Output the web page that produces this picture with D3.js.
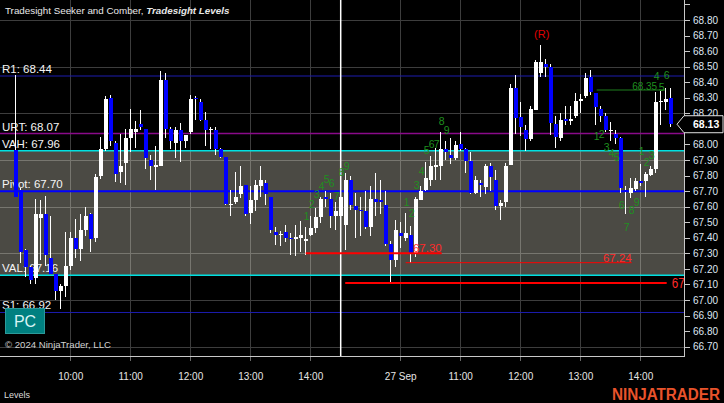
<!DOCTYPE html>
<html><head><meta charset="utf-8">
<script src="https://cdn.jsdelivr.net/npm/d3@7"></script>
<style>
body{margin:0;background:#000;}
svg{display:block;font-family:"Liberation Sans",Arial,sans-serif;}
</style>
</head><body>
<svg id="chart" width="724" height="403"></svg>
<script>
// ---------------- DATA ----------------
const firstBar = 3;           // index of the first 5-minute bar shown
const lastBarIndex = 134;
const opens = [67.965,67.71,67.32,67.21,67.14,67.53,67.55,67.27,67.17,67.06,67.09,67.22,67.40,67.33,67.45,67.55,67.40,
67.80,67.97,68.30,68.01,67.82,67.88,68.04,68.08,68.13,68.10,67.90,67.855,67.86,68.415,68.10,68.01,
68.09,68.02,68.08,68.30,68.27,68.16,68.09,68.09,67.97,67.92,67.61,67.63,67.68,67.74,67.56,67.64,67.73,67.755,67.665,
67.435,67.42,67.435,67.40,67.40,67.40,67.38,67.415,67.465,67.535,67.665,67.65,67.54,67.54,67.48,67.77,67.605,67.58,67.57,
67.47,67.65,67.645,67.61,67.36,67.26,67.43,67.40,67.42,67.30,67.645,67.71,67.77,67.86,67.86,67.97,67.935,67.915,68.00,
67.97,67.895,67.69,67.755,67.725,67.86,67.77,67.605,67.63,67.865,68.36,68.175,68.09,68.035,68.22,68.46,68.52,68.50,68.13,
68.04,68.165,68.15,68.18,68.28,68.31,68.435,68.33,68.23,68.185,68.09,68.07,68.04,67.71,67.69,67.715,67.765,67.765,67.805,
67.845,68.27,68.27,68.30];
const highs = [68.447,67.72,67.33,67.22,67.65,67.64,67.67,67.54,67.17,67.10,67.44,67.44,67.52,67.55,67.60,67.56,67.81,
68.05,68.31,68.32,68.02,68.07,68.10,68.23,68.15,68.22,68.10,67.93,67.99,68.47,68.46,68.11,68.11,
68.14,68.06,68.32,68.31,68.29,68.21,68.11,68.11,67.98,67.92,67.71,67.82,67.86,67.74,67.73,67.77,67.86,67.77,67.665,
67.47,67.445,67.48,67.43,67.48,67.505,67.47,67.54,67.59,67.665,67.70,67.69,67.63,67.70,67.815,67.80,67.69,67.66,67.70,
67.735,67.815,67.77,67.70,67.38,67.515,67.50,67.56,67.475,67.66,67.73,67.89,67.925,67.975,68.08,68.02,68.04,68.02,68.08,
67.975,67.95,67.80,67.77,67.875,67.88,67.837,67.645,67.88,68.39,68.445,68.275,68.125,68.25,68.54,68.64,68.55,68.52,68.18,
68.20,68.25,68.25,68.33,68.325,68.46,68.48,68.33,68.245,68.20,68.145,68.09,68.05,67.73,67.785,67.785,67.875,67.825,67.86,
68.34,68.345,68.36,68.36];
const lows = [67.66,67.24,67.15,67.10,67.10,67.26,67.22,67.17,67.00,66.94,67.02,67.19,67.27,67.25,67.41,67.31,67.37,
67.78,67.96,67.99,67.76,67.75,67.74,67.95,67.98,68.09,67.84,67.77,67.71,67.86,68.04,67.97,67.91,
67.89,67.98,68.07,68.16,68.15,67.99,67.97,67.93,67.91,67.61,67.54,67.62,67.655,67.54,67.49,67.575,67.665,67.61,67.43,
67.355,67.345,67.375,67.29,67.28,67.31,67.29,67.41,67.43,67.495,67.60,67.465,67.45,67.48,67.32,67.58,67.40,67.41,67.455,
67.41,67.54,67.55,67.35,67.11,67.215,67.335,67.38,67.24,67.275,67.64,67.70,67.73,67.77,67.77,67.90,67.875,67.90,67.96,
67.815,67.68,67.68,67.665,67.68,67.70,67.58,67.515,67.60,67.865,68.07,68.055,67.955,68.02,68.22,68.435,68.435,68.06,67.98,
68.02,68.125,68.125,68.17,68.205,68.30,68.32,68.125,68.145,68.08,68.02,68.00,67.69,67.55,67.655,67.70,67.73,67.665,67.80,
67.815,68.125,68.22,68.115];
const closes = [67.665,67.31,67.21,67.13,67.55,67.55,67.29,67.17,67.06,67.09,67.22,67.40,67.33,67.45,67.54,67.39,67.79,
67.97,68.29,68.02,67.81,67.86,68.04,68.10,68.10,68.11,67.91,67.86,67.865,68.415,68.10,68.02,68.09,
68.02,68.06,68.29,68.29,68.16,68.09,68.10,67.97,67.92,67.62,67.62,67.66,67.73,67.555,67.64,67.74,67.77,67.68,67.45,
67.42,67.425,67.40,67.395,67.405,67.42,67.39,67.465,67.535,67.65,67.65,67.54,67.575,67.66,67.77,67.61,67.58,67.57,67.47,
67.65,67.63,67.63,67.36,67.255,67.45,67.41,67.43,67.30,67.65,67.70,67.785,67.86,67.865,67.97,67.95,67.915,67.995,67.97,
67.895,67.69,67.77,67.74,67.86,67.79,67.605,67.625,67.86,68.36,68.17,68.11,68.035,68.23,68.53,68.53,68.50,68.135,68.05,
68.16,68.15,68.165,68.28,68.29,68.425,68.34,68.24,68.185,68.09,68.095,68.04,67.72,67.695,67.72,67.765,67.755,67.81,67.845,
68.27,68.28,68.29,68.13];

const timeTickBars   = [14, 26, 38, 50, 62, 80, 92, 104, 116, 128];
const timeTickLabels = ["10:00","11:00","12:00","13:00","14:00","27 Sep","11:00","12:00","13:00","14:00"];
const sessionBreakBar = 68;

const levelNames  = ["R1","URT","VAH","Pivot","VAL","S1"];
const levelValues = [68.44, 68.07, 67.96, 67.70, 67.16, 66.92];
const levelColors = ["#1c1cb0","#8a0a8a","#00e0e0","#0000ff","#00e0e0","#1c1cb0"];

const priceMin = 66.70, priceMax = 68.80;
const priceTicks = d3.range(0, 23).map(i => +(66.70 + i * 0.1).toFixed(2));   // 66.70 .. 68.90
const gridPrices = [66.70, 67.00, 67.30, 67.60, 67.90, 68.20, 68.50, 68.80];
const lastPrice = 68.13;

const redLineValues = [67.30, 67.24, 67.11];
const redLineFrom   = [61, 81, 68.9];
const redLineTo     = [88.2, 126.2, 133.2];
const redLineLabels = ["67.30", "67.24", "67.11"];

const seekerLineValue = 68.35, seekerLineFrom = 119.2, seekerLineTo = 132.9;

const countBars   = [61,62,63,64,65,66,67,68,69, 81,82,83,84,85,86,87,88,89, 119,120,121,122,123,124,125,126,127, 128,129,130,131,132,133];
const countTexts  = ["1","2","3","4","5","6","7","8","9", "1","2","3","4","5","6","7","8","9", "1","2","3","4","5","6","7","8","9", "1","2","3","4","5","6"];
const countPrices = [67.54,67.62,67.68,67.73,67.78,67.755,67.67,67.82,67.86,
                     67.63,67.56,67.74,67.83,67.965,68.00,68.00,68.15,68.09,
                     68.055,68.07,67.985,67.945,67.92,67.61,67.47,67.58,67.63,
                     67.955,67.89,67.935,68.44,68.37,68.445];
const rMarkBar = 108, rMarkPrice = 68.71;

// ---------------- DRAW ----------------
const W = 724, H = 403, plotRight = 685, plotBottom = 357;
const svg = d3.select("#chart");
const x = d3.scaleLinear().domain([0, lastBarIndex]).range([0.7, 670.7]);
const y = d3.scaleLinear().domain([priceMin, priceMax]).range([346.7, 20]);

const bars = opens.map((o, i) => ({k: firstBar + i, o, h: highs[i], l: lows[i], c: closes[i]}));

svg.append("rect").attr("width", W).attr("height", H).attr("fill", "#000");
const defs = svg.append("defs");
defs.append("clipPath").attr("id","plotClip").append("rect").attr("x",0).attr("y",0).attr("width",plotRight).attr("height",plotBottom);
const vah = levelValues[2], val = levelValues[4];
defs.append("clipPath").attr("id","bandClip").append("rect")
  .attr("x",0).attr("y",y(vah)).attr("width",plotRight).attr("height",y(val)-y(vah));

const plot = svg.append("g").attr("clip-path","url(#plotClip)");

// value area band
plot.append("rect").attr("x",0).attr("y",y(vah)).attr("width",plotRight).attr("height",y(val)-y(vah)).attr("fill","#4b4a44");

function drawGrid(g, color){
  g.selectAll("line.h").data(gridPrices).join("line").attr("class","h")
    .attr("x1",0).attr("x2",plotRight).attr("y1",d=>Math.round(y(d))+0.5).attr("y2",d=>Math.round(y(d))+0.5)
    .attr("stroke",color).attr("stroke-width",1);
  g.selectAll("line.v").data(timeTickBars).join("line").attr("class","v")
    .attr("x1",d=>Math.round(x(d))-0.5).attr("x2",d=>Math.round(x(d))-0.5).attr("y1",0).attr("y2",plotBottom)
    .attr("stroke",color).attr("stroke-width",1);
}
drawGrid(plot.append("g"), "#3d3d3d");
drawGrid(plot.append("g").attr("clip-path","url(#bandClip)"), "#77766f");

// level lines
const lvlW = [1,1.5,1.5,2,1.5,1];
plot.selectAll("line.lvl").data(levelValues).join("line").attr("class","lvl")
  .attr("x1",0).attr("x2",plotRight).attr("y1",d=>y(d)).attr("y2",d=>y(d))
  .attr("stroke",(d,i)=>levelColors[i]).attr("stroke-width",(d,i)=>lvlW[i]);

// level labels (drawn under the candles)
plot.selectAll("text.lvl").data(levelValues).join("text").attr("class","lvl")
  .attr("x",2).attr("y",d=>y(d)-3).attr("fill","#f4f4f4").attr("font-size","11.5px")
  .text((d,i)=>levelNames[i]+": "+d.toFixed(2));

// session break
plot.append("line").attr("x1",x(sessionBreakBar)).attr("x2",x(sessionBreakBar)).attr("y1",0).attr("y2",plotBottom)
  .attr("stroke","#fff").attr("stroke-width",1.5);

// candles
const cg = plot.append("g").attr("shape-rendering","crispEdges");
cg.selectAll("line.wick").data(bars).join("line").attr("class","wick")
  .attr("x1",d=>Math.round(x(d.k))-0.5).attr("x2",d=>Math.round(x(d.k))-0.5)
  .attr("y1",d=>y(d.h)).attr("y2",d=>y(d.l)).attr("stroke","#fff").attr("stroke-width",1);
cg.selectAll("rect.body").data(bars).join("rect").attr("class","body")
  .attr("x",d=>Math.round(x(d.k))-2.5).attr("width",4)
  .attr("y",d=>y(Math.max(d.o,d.c)))
  .attr("height",d=>Math.max(1.5, Math.abs(y(d.o)-y(d.c))))
  .attr("fill",d=>d.c>=d.o ? "#ffffff" : "#0000ff");

// red lines
const redW = [2,1,2];
plot.selectAll("line.red").data(redLineValues).join("line").attr("class","red")
  .attr("x1",(d,i)=>x(redLineFrom[i])).attr("x2",(d,i)=>x(redLineTo[i]))
  .attr("y1",d=>y(d)).attr("y2",d=>y(d)).attr("stroke","#ff0000").attr("stroke-width",(d,i)=>redW[i]);
plot.append("text").attr("x",x(redLineTo[0])).attr("y",y(redLineValues[0])-1.5).attr("text-anchor","end")
  .attr("fill","#ff2a2a").attr("font-size","11.5px").text(redLineLabels[0]);
plot.append("text").attr("x",x(redLineTo[1])).attr("y",y(redLineValues[1])-1).attr("text-anchor","end")
  .attr("fill","#ff2a2a").attr("font-size","11.5px").text(redLineLabels[1]);
// this label runs under the price axis and is clipped there, as in the original
const clipLbl = svg.append("g").attr("clip-path","url(#plotClip)");
clipLbl.append("text").attr("x",x(redLineTo[2])+5).attr("y",y(redLineValues[2])+5.5)
  .attr("fill","#ff2a2a").attr("font-size","14px").attr("textLength",13).attr("lengthAdjust","spacingAndGlyphs")
  .text(redLineLabels[2].slice(0,2));

// seeker target line
plot.append("line").attr("x1",x(seekerLineFrom)).attr("x2",x(seekerLineTo)).attr("y1",y(seekerLineValue)).attr("y2",y(seekerLineValue))
  .attr("stroke","#1f7f1f").attr("stroke-width",1);
plot.append("text").attr("x",x(seekerLineTo)-8).attr("y",y(seekerLineValue)-0.5).attr("text-anchor","end")
  .attr("fill","#1f8f1f").attr("font-size","10px").text(seekerLineValue.toFixed(2));

// count labels
plot.selectAll("text.cnt").data(countBars).join("text").attr("class","cnt")
  .attr("x",d=>x(d)+1).attr("y",(d,i)=>y(countPrices[i])+4).attr("text-anchor","middle")
  .attr("fill","#1f8f1f").attr("font-size","10.5px").text((d,i)=>countTexts[i]);
plot.append("text").attr("x",x(rMarkBar)+1).attr("y",y(rMarkPrice)+4).attr("text-anchor","middle")
  .attr("fill","#e00000").attr("font-size","11px").text("(R)");

// frame / axes
svg.append("line").attr("x1",plotRight-0.5).attr("x2",plotRight-0.5).attr("y1",0).attr("y2",plotBottom)
  .attr("stroke","#c8c8c8").attr("stroke-width",1);
svg.append("line").attr("x1",0).attr("x2",plotRight).attr("y1",plotBottom-0.5).attr("y2",plotBottom-0.5)
  .attr("stroke","#c8c8c8").attr("stroke-width",1);

const yAxis = svg.append("g");
yAxis.selectAll("line").data(priceTicks).join("line")
  .attr("x1",plotRight).attr("x2",plotRight+5).attr("y1",d=>Math.round(y(d))+0.5).attr("y2",d=>Math.round(y(d))+0.5)
  .attr("stroke","#c8c8c8");
// labels hidden behind the last-price marker are not drawn
yAxis.selectAll("text").data(priceTicks.filter(d=>d<=priceMax+1e-9 && Math.abs(y(d)-y(lastPrice))>10)).join("text")
  .attr("x",693).attr("y",d=>y(d)+3.6).attr("fill","#dfe6f2").attr("font-size","10px")
  .text(d=>d.toFixed(2));

// time axis
svg.selectAll("line.tt").data(timeTickBars).join("line").attr("class","tt")
  .attr("x1",d=>Math.round(x(d))-0.5).attr("x2",d=>Math.round(x(d))-0.5).attr("y1",plotBottom).attr("y2",plotBottom+4)
  .attr("stroke","#666");
svg.selectAll("text.tt").data(timeTickBars).join("text").attr("class","tt")
  .attr("x",d=>x(d)).attr("y",380).attr("text-anchor","middle").attr("fill","#e6e6e6").attr("font-size","10px")
  .text((d,i)=>timeTickLabels[i]);

// last price marker
const lp = y(lastPrice);
svg.append("path").attr("d",`M677,${lp} L684,${lp-8.5} L723,${lp-8.5} L723,${lp+8.5} L684,${lp+8.5} Z`)
  .attr("fill","#000").attr("stroke","#e0e0e0").attr("stroke-width",1);
svg.append("text").attr("x",693).attr("y",lp+3.8).attr("fill","#fff").attr("font-size","10.5px").attr("font-weight","bold")
  .text(lastPrice.toFixed(2));

// title
const t = svg.append("text").attr("x",5).attr("y",14).attr("fill","#e8e8e8").attr("font-size","9.8px");
t.append("tspan").text("Tradesight Seeker and Comber, ");
t.append("tspan").attr("font-style","italic").attr("font-weight","bold").text("Tradesight Levels");

// PC button
svg.append("rect").attr("x",5.5).attr("y",308.5).attr("width",39).attr("height",25).attr("fill","#008080").attr("stroke","#2c9a9a");
svg.append("text").attr("x",25).attr("y",327).attr("text-anchor","middle").attr("fill","#d8f4f4").attr("font-size","16px").text("PC");

// copyright
svg.append("text").attr("x",5).attr("y",348).attr("fill","#d0d0d0").attr("font-size","9.6px").text("© 2024 NinjaTrader, LLC");

// footer
svg.append("text").attr("x",4).attr("y",398).attr("fill","#dcdcdc").attr("font-size","9px").text("Levels");
svg.append("text").attr("x",720).attr("y",400).attr("text-anchor","end").attr("fill","#e9532b")
  .attr("font-size","16px").attr("font-weight","bold").attr("textLength",108).attr("lengthAdjust","spacingAndGlyphs").text("NINJATRADER");
</script>
</body></html>
